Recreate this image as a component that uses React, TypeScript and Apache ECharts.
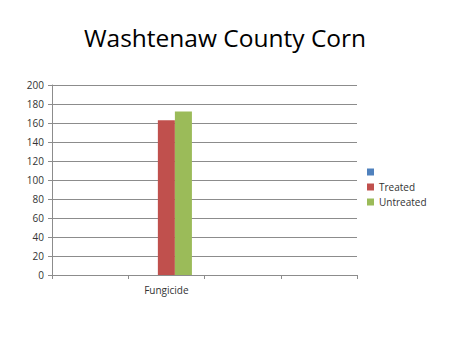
import React, { useEffect, useRef } from "react";
import * as echarts from "echarts";

const categories = ["", "Fungicide", "", ""];
const seriesNames = [" ", "Treated", "Untreated"];
const blankValues: (number | null)[] = [null, null, null, null];
const treatedValues: (number | null)[] = [null, 163, null, null];
const untreatedValues: (number | null)[] = [null, 172, null, null];
const colors = ["#4F81BD", "#C0504D", "#9BBB59"];

export default function App() {
  const ref = useRef<HTMLDivElement>(null);
  useEffect(() => {
    const chart = echarts.init(ref.current!, null, { renderer: "svg" });
    const font = "'Open Sans', sans-serif";
    const data = [blankValues, treatedValues, untreatedValues];
    chart.setOption({
      animation: false,
      backgroundColor: "#ffffff",
      title: {
        text: "Washtenaw County Corn",
        left: "center",
        top: 20,
        textStyle: { fontFamily: font, fontSize: 24.5, fontWeight: "normal", color: "#000" },
      },
      legend: {
        orient: "vertical",
        left: 362,
        top: 162,
        itemWidth: 7,
        itemHeight: 7,
        itemGap: 5,
        icon: "rect",
        data: seriesNames,
        textStyle: { fontFamily: font, fontSize: 10, color: "#333" },
      },
      grid: { left: 52, top: 85, width: 305, height: 190, containLabel: false },
      xAxis: {
        type: "category",
        data: categories,
        axisLine: { lineStyle: { color: "#8c8c8c" } },
        axisTick: { show: true, alignWithLabel: false, length: 4, lineStyle: { color: "#8c8c8c" } },
        axisLabel: { fontFamily: font, fontSize: 10, color: "#333", margin: 10 },
      },
      yAxis: {
        type: "value",
        min: 0,
        max: 200,
        interval: 20,
        axisLine: { show: true, lineStyle: { color: "#8c8c8c" } },
        axisTick: { show: true, length: 4, lineStyle: { color: "#8c8c8c" } },
        axisLabel: { fontFamily: font, fontSize: 10, color: "#333", margin: 8 },
        splitLine: { lineStyle: { color: "#8c8c8c" } },
      },
      series: seriesNames.map((name, i) => ({
        name,
        type: "bar",
        data: data[i],
        itemStyle: { color: colors[i] },
        barGap: "0%",
        barCategoryGap: "33%",
      })),
    });
    return () => chart.dispose();
  }, []);
  return <div ref={ref} style={{ width: 450, height: 337, margin: -8 }} />;
}
